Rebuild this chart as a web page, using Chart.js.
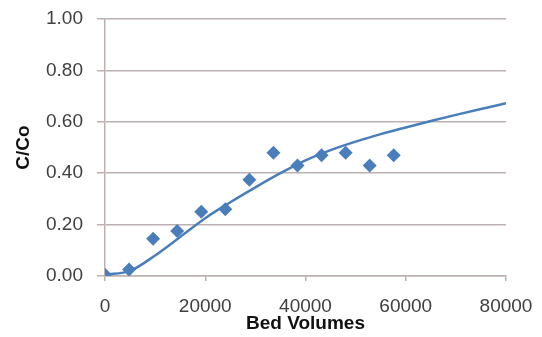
<!DOCTYPE html>
<html><head><meta charset="utf-8">
<script src="https://cdn.jsdelivr.net/npm/chart.js@4/dist/chart.umd.min.js"></script>
<style>html,body{margin:0;padding:0;background:#fff;}#wrap{width:542px;height:337px;position:relative;}</style>
</head><body><div id="wrap"><canvas id="c"></canvas></div>
<script>
const bedVolumes = [0, 4800, 9600, 14400, 19200, 24000, 28800, 33600, 38400, 43200, 48000, 52800, 57600];
const ratioC = [0.005, 0.025, 0.145, 0.175, 0.25, 0.26, 0.375, 0.48, 0.43, 0.47, 0.48, 0.43, 0.47];
const fitX = [0, 5000, 10000, 15000, 20000, 25000, 30000, 35000, 40000, 45000, 50000, 55000, 60000, 65000, 70000, 75000, 80000];
const fitY = [0.005, 0.02, 0.08, 0.152, 0.225, 0.287, 0.345, 0.40, 0.45, 0.49, 0.523, 0.552, 0.578, 0.603, 0.627, 0.65, 0.672];
const xTicks = [0, 20000, 40000, 60000, 80000];
const yTicks = [0, 0.2, 0.4, 0.6, 0.8, 1.0];

const blue = '#4a7ebb';
const gridCol = '#bdb0b0';
const tickFont = {family: "'Liberation Sans', Arial, sans-serif", size: 19};
const titleFont = {family: "'Liberation Sans', Arial, sans-serif", size: 19, weight: 'bold'};

new Chart(document.getElementById('c'), {
  type: 'scatter',
  data: {
    datasets: [
      {
        type: 'line',
        data: fitX.map((x, i) => ({x, y: fitY[i]})),
        borderColor: blue, borderWidth: 2.5, pointRadius: 0,
        cubicInterpolationMode: 'monotone', fill: false, order: 1
      },
      {
        data: bedVolumes.map((x, i) => ({x, y: ratioC[i]})),
        pointStyle: 'rectRot', pointRadius: 7, backgroundColor: blue, borderColor: blue,
        borderWidth: 0, order: 0
      }
    ]
  },
  options: {
    responsive: true, maintainAspectRatio: false, animation: false,
    layout: {padding: {left: 0, right: 36, top: 19, bottom: 0}},
    plugins: {legend: {display: false}, tooltip: {enabled: false}},
    scales: {
      x: {
        type: 'linear', min: 0, max: 80000,
        afterBuildTicks: s => { s.ticks = xTicks.map(v => ({value: v})); },
        afterFit: s => { s.height = 61; s.paddingLeft = 0; s.paddingRight = 0; },
        grid: {drawOnChartArea: false, color: gridCol, tickLength: 5, lineWidth: 1.5},
        border: {color: gridCol, width: 1.5},
        ticks: {font: tickFont, color: '#404040', padding: 14, maxRotation: 0, callback: v => String(v)},
        title: {display: true, text: 'Bed Volumes', font: titleFont, color: '#111', padding: {top: 0, bottom: 2}}
      },
      y: {
        min: 0, max: 1,
        afterBuildTicks: s => { s.ticks = yTicks.map(v => ({value: v})); },
        afterFit: s => { s.width = 105; s.paddingTop = 0; s.paddingBottom = 0; },
        grid: {color: gridCol, tickLength: 8, lineWidth: 1.5},
        border: {color: gridCol, width: 1.5},
        ticks: {font: tickFont, color: '#404040', padding: 14, callback: v => v.toFixed(2)},
        title: {display: true, text: 'C/Co', font: titleFont, color: '#111', padding: {top: 12, bottom: 0}}
      }
    }
  }
});
</script></body></html>
